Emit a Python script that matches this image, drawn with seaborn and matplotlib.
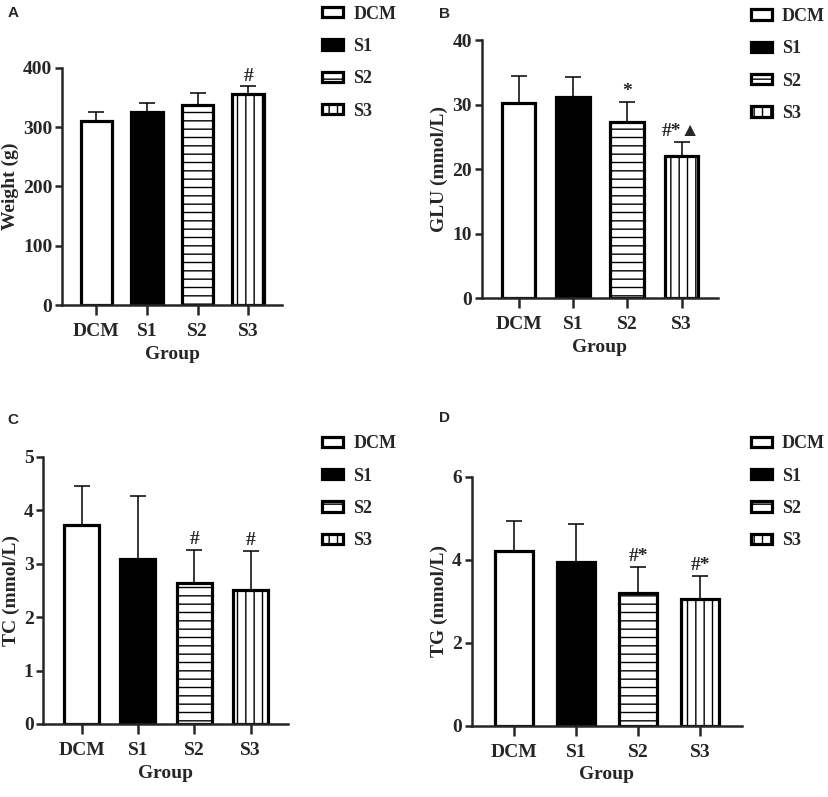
import numpy as np
import matplotlib
matplotlib.use("Agg")
import matplotlib.pyplot as plt
import seaborn as sns

groups = ["DCM", "S1", "S2", "S3"]

weight_mean = [311, 326, 338, 356]
weight_sd = [14, 15, 20, 14]
weight_marks = ["", "", "", "#"]

glu_mean = [30.2, 31.1, 27.3, 22.1]
glu_sd = [4.2, 3.2, 3.1, 2.1]
glu_marks = ["", "", "*", "#*\u25B2"]

tc_mean = [3.73, 3.08, 2.63, 2.50]
tc_sd = [0.72, 1.18, 0.62, 0.73]
tc_marks = ["", "", "#", "#"]

tg_mean = [4.21, 3.94, 3.19, 3.06]
tg_sd = [0.72, 0.92, 0.64, 0.55]
tg_marks = ["", "", "#*", "#*"]

sns.set_style("ticks")
plt.rcParams["font.family"] = ["Liberation Serif", "DejaVu Sans"]
plt.rcParams["font.weight"] = "bold"
plt.rcParams["hatch.color"] = "#444444"
plt.rcParams["hatch.linewidth"] = 1.0

colors = ["white", "black", "white", "white"]
hatches = ["", "", "--", "||"]
FS = 14


def panel(fig, rect, mean, sd, marks, ylabel, ylim, yticks, letter, letter_xy, leg_xy, mark_off):
    ax = fig.add_axes(rect)
    sns.barplot(x=groups, y=mean, hue=groups, palette=colors, ax=ax, width=0.62,
                edgecolor="black", linewidth=2.3, errorbar=None, legend=False,
                saturation=1)
    for p, h in zip(ax.patches, hatches):
        p.set_hatch(h)
    x = np.arange(len(groups))
    ax.errorbar(x, mean, yerr=[np.zeros(len(sd)), sd], fmt="none", ecolor="black",
                elinewidth=1.1, capsize=6, capthick=1.1, zorder=1)
    for i, m in enumerate(marks):
        if m:
            ax.text(i, mean[i] + sd[i] + mark_off, m, ha="center", va="bottom",
                    fontsize=FS, fontweight="bold")
    ax.set_xlim(-0.68, 3.67)
    ax.set_ylim(*ylim)
    ax.set_yticks(yticks)
    ax.set_ylabel(ylabel, fontsize=FS, fontweight="bold", labelpad=3)
    ax.set_xlabel("Group", fontsize=FS, fontweight="bold", labelpad=4)
    for s in ["top", "right"]:
        ax.spines[s].set_visible(False)
    for s in ["left", "bottom"]:
        ax.spines[s].set_linewidth(1.8)
    ax.tick_params(axis="both", labelsize=FS, width=1.8)
    ax.tick_params(axis="x", length=7, pad=6)
    ax.tick_params(axis="y", length=5, pad=2)
    for lab in ax.get_xticklabels() + ax.get_yticklabels():
        lab.set_fontweight("bold")
    ax.legend(handles=ax.patches[:4], labels=groups, loc="upper left",
              bbox_to_anchor=leg_xy, bbox_transform=fig.transFigure, frameon=False,
              fontsize=13, handlelength=1.15, handleheight=0.5, handletextpad=0.55,
              labelspacing=0.85, borderpad=0, borderaxespad=0)
    fig.text(letter_xy[0], letter_xy[1], letter, family="Liberation Sans",
             fontweight="bold", fontsize=11, ha="left", va="center")
    return ax


fig = plt.figure(figsize=(8.29, 7.97), dpi=100)

panel(fig, [0.0748, 0.6173, 0.2654, 0.2974], weight_mean, weight_sd, weight_marks,
      "Weight (g)", (0, 400), [0, 100, 200, 300, 400], "A", (0.009, 0.984),
      (0.389, 0.993), 2)
panel(fig, [0.581, 0.6257, 0.285, 0.3241], glu_mean, glu_sd, glu_marks,
      "GLU (mmol/L)", (0, 40), [0, 10, 20, 30, 40], "B", (0.530, 0.983),
      (0.906, 0.990), 0.3)
panel(fig, [0.0522, 0.0916, 0.2955, 0.3354], tc_mean, tc_sd, tc_marks,
      "TC (mmol/L)", (0, 5), [0, 1, 2, 3, 4, 5], "C", (0.009, 0.473),
      (0.389, 0.454), 0.04)
panel(fig, [0.569, 0.0895, 0.3257, 0.3126], tg_mean, tg_sd, tg_marks,
      "TG (mmol/L)", (0, 6), [0, 2, 4, 6], "D", (0.530, 0.476),
      (0.906, 0.454), 0.05)

fig.savefig("out.png", dpi=100)
